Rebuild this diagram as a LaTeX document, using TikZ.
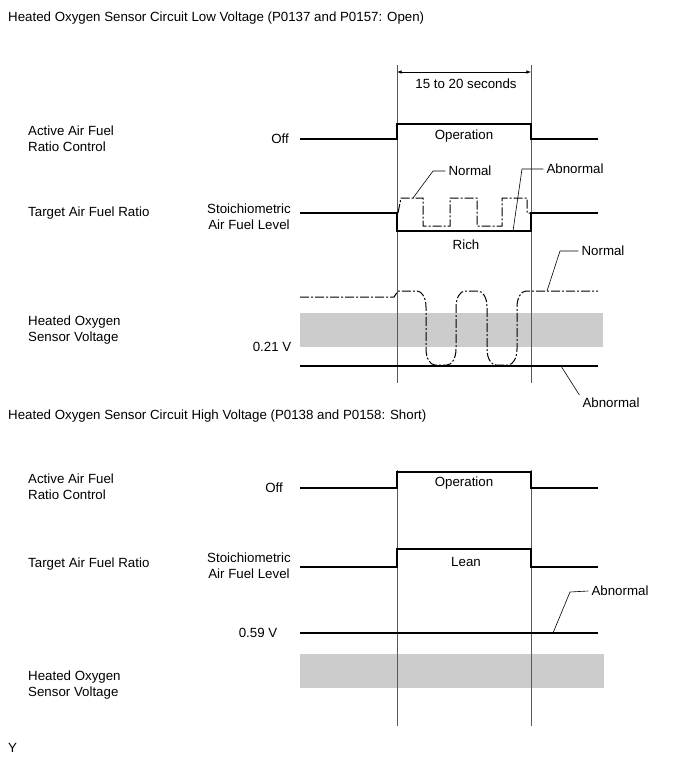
\documentclass[tikz,border=0pt]{standalone}
\usepackage{fontspec}
\setmainfont{Liberation Sans}
\usepackage{tikz}
\usetikzlibrary{arrows}
\tikzstyle{lbl} = [inner sep=0pt, align=left, anchor=west]
\tikzstyle{txt} = [inner sep=0pt, align=center]
\tikzstyle{tag} = [inner sep=3pt, align=center]
\tikzstyle{signal} = [line width=1.1pt]
\tikzstyle{normal} = [line width=1pt, dash pattern=on 9pt off 2pt on 2pt off 2pt]
\tikzstyle{guide} = [line width=0.5pt, black!65]
\tikzstyle{band} = [fill=black!20, draw=none]
\tikzstyle{leader} = [line width=0.6pt]
\tikzstyle{arrow} = [line width=0.6pt, <->, >=latex]

\begin{document}
\begin{tikzpicture}[x=1pt, y=-1pt, font=\fontsize{13.3}{16}\selectfont]
	\useasboundingbox (0,0) rectangle (690,757);

	% low voltage (open)
	\node(title_low) [lbl] at (8,18) {Heated Oxygen Sensor Circuit Low Voltage (P0137 and P0157: Open)};
	\node(ctrl_low) [lbl] at (28,139) {Active Air Fuel\\Ratio Control};
	\node(ratio_low) [lbl] at (28,213) {Target Air Fuel Ratio};
	\node(volt_low) [lbl] at (28,330) {Heated Oxygen\\Sensor Voltage};
	\node(off_low) [txt] at (280,139) {Off};
	\node(stoich_low) [txt] at (249,217) {Stoichiometric\\Air Fuel Level};
	\node(v021) [txt] at (272,347) {0.21 V};

	\fill[band] (300,313) rectangle (603,347);
	\draw[guide] (397,65) -- (397,383);
	\draw[guide] (531,65) -- (531,383);

	\coordinate(t_start) at (397,72);
	\coordinate(t_end) at (531,72);
	\draw[arrow] (t_start) -- (t_end);
	\node(period) [txt] at (466,84) {15 to 20 seconds};

	\draw[signal] (300,139) -- (397,139) -- (397,124) -- (531,124) -- (531,139) -- (598,139);
	\node(oper_low) [txt] at (464,136) {Operation};

	\draw[signal] (300,213) -- (397,213) -- (397,231) -- (531,231) -- (531,213) -- (598,213);
	\draw[normal] (398,213) -- (401,198) -- (423,198) -- (423,226) -- (450,226) -- (450,198) -- (477,198)
		-- (477,226) -- (502,226) -- (502,198) -- (527,198) -- (527,213) -- (531,213);
	\node(rich) [txt] at (466,245) {Rich};
	\node(nrm_rich) [tag] at (470,171) {Normal};
	\node(abn_rich) [tag] at (575,169) {Abnormal};
	\draw[leader] (413,198) -- (433,171) -- (nrm_rich.west);
	\draw[leader] (513,231) -- (522,169) -- (abn_rich.west);

	\draw[normal] (300,297) -- (394,297) -- (398,291) -- (417,291)
		.. controls (422,291) and (426,298) .. (426,307) -- (426,349)
		.. controls (426,358) and (430,365) .. (435,365) -- (447,365)
		.. controls (452,365) and (456,358) .. (456,349) -- (456,307)
		.. controls (456,298) and (460,291) .. (465,291) -- (478,291)
		.. controls (483,291) and (487,298) .. (487,307) -- (487,349)
		.. controls (487,358) and (491,365) .. (496,365) -- (508,365)
		.. controls (513,365) and (517,358) .. (517,349) -- (517,307)
		.. controls (517,298) and (521,291) .. (526,291) -- (598,291);
	\draw[signal] (300,366) -- (598,366);
	\node(nrm_volt) [tag] at (603,251) {Normal};
	\node(abn_volt) [tag] at (611,403) {Abnormal};
	\draw[leader] (547,291) -- (560,251) -- (nrm_volt.west);
	\draw[leader] (561,366) -- (abn_volt.north west);

	% high voltage (short)
	\node(title_high) [lbl] at (8,416) {Heated Oxygen Sensor Circuit High Voltage (P0138 and P0158: Short)};
	\node(ctrl_high) [lbl] at (28,487) {Active Air Fuel\\Ratio Control};
	\node(ratio_high) [lbl] at (28,564) {Target Air Fuel Ratio};
	\node(volt_high) [lbl] at (28,685) {Heated Oxygen\\Sensor Voltage};
	\node(off_high) [txt] at (274,488) {Off};
	\node(stoich_high) [txt] at (249,566) {Stoichiometric\\Air Fuel Level};
	\node(v059) [txt] at (258,633) {0.59 V};

	\fill[band] (300,654) rectangle (604,688);
	\draw[guide] (397,470) -- (397,726);
	\draw[guide] (531,470) -- (531,726);

	\draw[signal] (300,488) -- (397,488) -- (397,472) -- (531,472) -- (531,488) -- (598,488);
	\node(oper_high) [txt] at (464,483) {Operation};

	\draw[signal] (300,567) -- (397,567) -- (397,549) -- (531,549) -- (531,567) -- (598,567);
	\node(lean) [txt] at (466,562) {Lean};

	\draw[signal] (300,633) -- (598,633);
	\node(abn_high) [tag] at (620,591) {Abnormal};
	\draw[leader] (553,633) -- (570,592) -- (abn_high.west);

	\node(mark) [lbl] at (8,748) {Y};
\end{tikzpicture}
\end{document}
